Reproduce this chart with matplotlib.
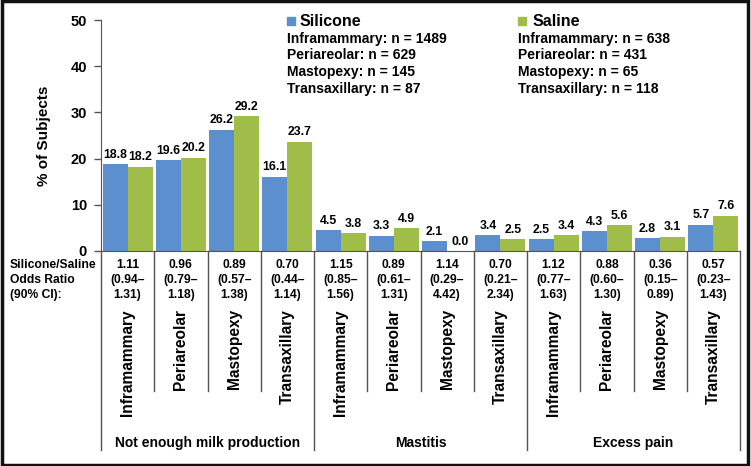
import matplotlib
matplotlib.use("Agg")
import matplotlib.pyplot as plt
import matplotlib.transforms as mtransforms
from matplotlib.patches import Rectangle

plt.rcParams['font.family'] = ['Liberation Sans', 'DejaVu Sans']
plt.rcParams['font.weight'] = 'bold'

approaches = ['Inframammary', 'Periareolar', 'Mastopexy', 'Transaxillary'] * 3
outcomes = ['Not enough milk production', 'Mastitis', 'Excess pain']
silicone = [18.8, 19.6, 26.2, 16.1, 4.5, 3.3, 2.1, 3.4, 2.5, 4.3, 2.8, 5.7]
saline = [18.2, 20.2, 29.2, 23.7, 3.8, 4.9, 0.0, 2.5, 3.4, 5.6, 3.1, 7.6]
odds = ['1.11', '0.96', '0.89', '0.70', '1.15', '0.89', '1.14', '0.70', '1.12', '0.88', '0.36', '0.57']
ci_low = ['0.94', '0.79', '0.57', '0.44', '0.85', '0.61', '0.29', '0.21', '0.77', '0.60', '0.15', '0.23']
ci_high = ['1.31', '1.18', '1.38', '1.14', '1.56', '1.31', '4.42', '2.34', '1.63', '1.30', '0.89', '1.43']
silicone_n = ['Inframammary: n = 1489', 'Periareolar: n = 629', 'Mastopexy: n = 145', 'Transaxillary: n = 87']
saline_n = ['Inframammary: n = 638', 'Periareolar: n = 431', 'Mastopexy: n = 65', 'Transaxillary: n = 118']

blue = '#5b8fcd'
green = '#9fbd48'
W, H = 751, 466


def fx(px):
    return px / W


def fy(py):
    return 1 - py / H


fig = plt.figure(figsize=(7.51, 4.66), dpi=100)
ax = fig.add_axes([fx(101), fy(251), fx(740) - fx(101), fy(20) - fy(251)])

n = len(silicone)
x = list(range(n))
bw = 0.47
b1 = ax.bar([i - bw / 2 for i in x], silicone, bw, color=blue, label='Silicone')
b2 = ax.bar([i + bw / 2 for i in x], saline, bw, color=green, label='Saline')
for bars in (b1, b2):
    for r in bars:
        ax.annotate('%.1f' % r.get_height(), (r.get_x() + r.get_width() / 2, r.get_height()),
                    xytext=(0, 2.5), textcoords='offset points', ha='center', va='bottom',
                    fontsize=8.8, fontweight='bold')

ax.set_xlim(-0.5, n - 0.5)
ax.set_ylim(0, 50)
ax.set_yticks(range(0, 51, 10))
ax.tick_params(axis='y', direction='out', length=5, width=1, color='#555555',
               labelsize=10.5, pad=5)
ax.set_xticks([])
for s in ['top', 'right']:
    ax.spines[s].set_visible(False)
ax.spines['left'].set_color('#555555')
ax.spines['bottom'].set_color('#555555')
ax.set_ylabel('% of Subjects', fontsize=11, fontweight='bold', labelpad=14)

# table below the axis
tr = mtransforms.blended_transform_factory(ax.transData, fig.transFigure)
for k in range(n + 1):
    bottom = 450 if k % 4 == 0 else 391
    ax.plot([k - 0.5, k - 0.5], [fy(251), fy(bottom)], color='#555555', lw=1,
            transform=tr, clip_on=False)
for i in x:
    ax.text(i, fy(265), odds[i], transform=tr, ha='center', va='center', fontsize=8.7)
    ax.text(i, fy(280), '(' + ci_low[i] + '\u2013', transform=tr, ha='center', va='center', fontsize=8.7)
    ax.text(i, fy(295), ci_high[i] + ')', transform=tr, ha='center', va='center', fontsize=8.7)
    ax.text(i, fy(309), approaches[i], transform=tr, ha='center', va='top', rotation=90,
            fontsize=11.2)
for j, name in enumerate(outcomes):
    ax.text(4 * j + 1.5, fy(443), name, transform=tr, ha='center', va='center', fontsize=10)

for k, line in enumerate(['Silicone/Saline', 'Odds Ratio', '(90% CI):']):
    fig.text(fx(10), fy(265 + 15 * k), line, ha='left', va='center', fontsize=8.7)

# legend
for sq_x, txt_x, lab, col, lines in [(287, 300, 'Silicone', blue, silicone_n),
                                     (518, 533, 'Saline', green, saline_n)]:
    fig.patches.append(Rectangle((fx(sq_x), fy(25)), fx(8), 8 / H, color=col,
                                 transform=fig.transFigure))
    fig.text(fx(txt_x), fy(21), lab, ha='left', va='center', fontsize=11.5)
    for k, line in enumerate(lines):
        fig.text(fx(sq_x), fy(38.5 + 16.7 * k), line, ha='left', va='center', fontsize=10)

# frame around the figure
fig.patches.append(Rectangle((0.002, 0.003), 0.994, 0.994, fill=False, edgecolor='#111111',
                             lw=2.5, transform=fig.transFigure))

fig.savefig('out.png', dpi=100)
